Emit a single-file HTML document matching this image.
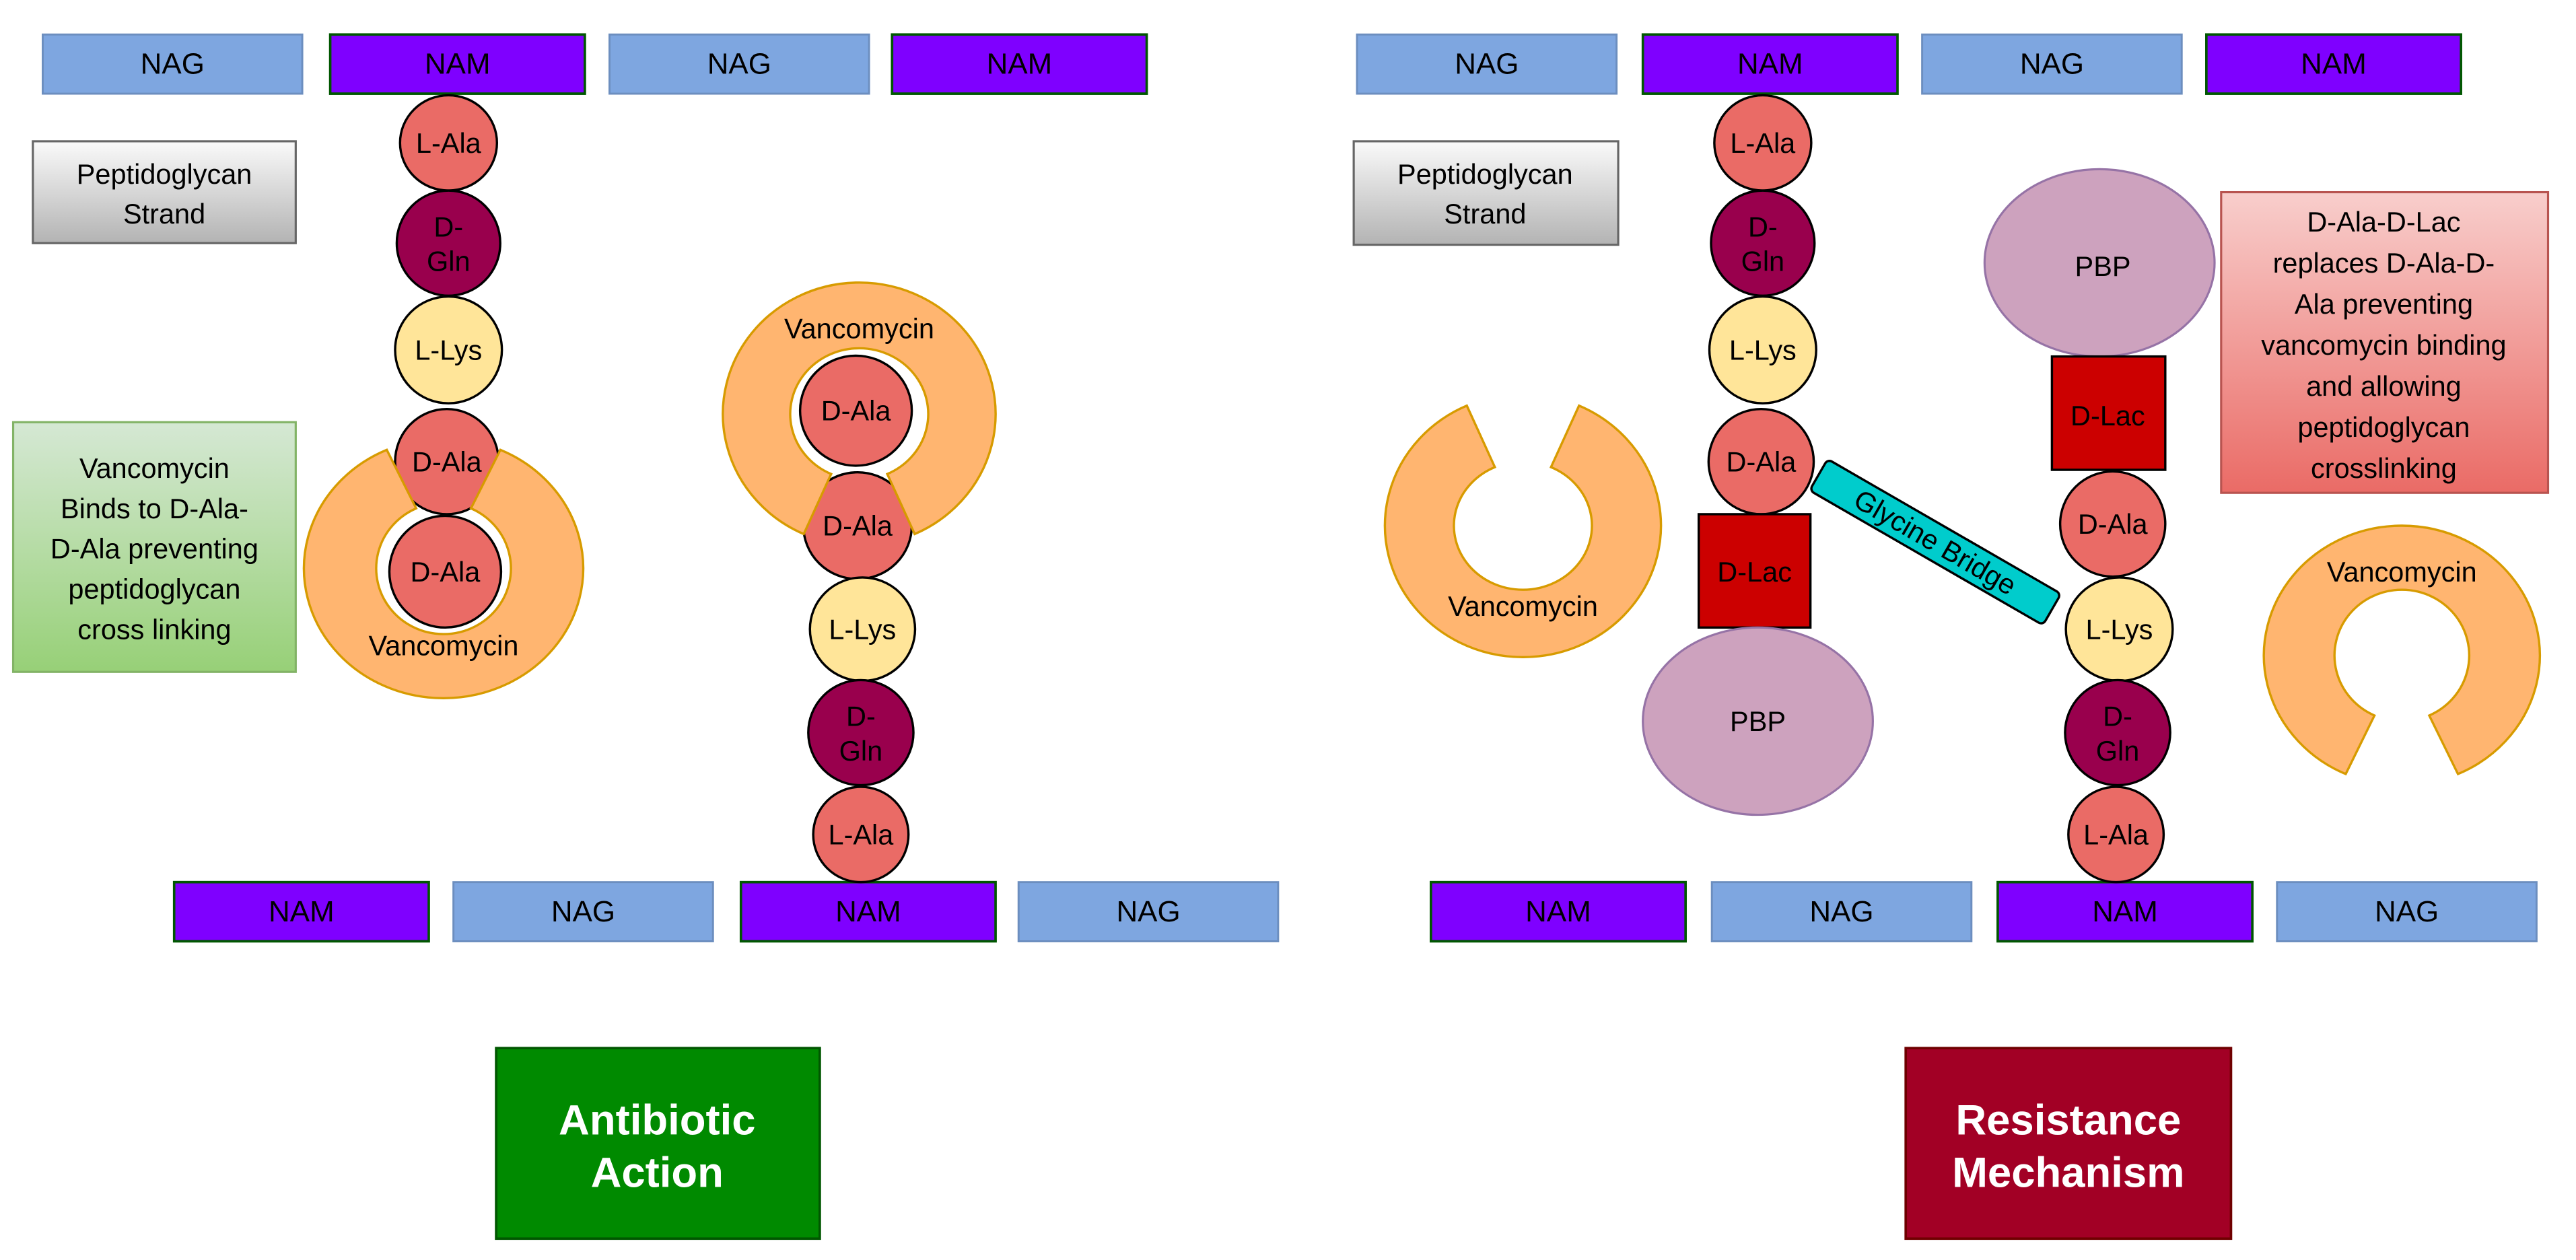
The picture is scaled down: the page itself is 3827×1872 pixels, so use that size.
<!DOCTYPE html>
<html><head><meta charset="utf-8"><style>
html,body{margin:0;padding:0;background:#fff;}
svg{display:block;}
text{font-family:"Liberation Sans",Arial,sans-serif;}
</style></head><body>
<svg id="s" width="3827" height="1872" viewBox="0 0 1568 767" xmlns="http://www.w3.org/2000/svg">
<defs>
<linearGradient id="gg" x1="0" y1="0" x2="0" y2="1"><stop offset="0" stop-color="#fafafa"/><stop offset="1" stop-color="#b3b3b3"/></linearGradient>
<linearGradient id="gn" x1="0" y1="0" x2="0" y2="1"><stop offset="0" stop-color="#d5e8d4"/><stop offset="1" stop-color="#97d077"/></linearGradient>
<linearGradient id="gr" x1="0" y1="0" x2="0" y2="1"><stop offset="0" stop-color="#f8cecc"/><stop offset="1" stop-color="#ea6b66"/></linearGradient>
</defs>
<rect width="1568" height="767" fill="#fff"/>
<g id="main"></g>
</svg>
<script>
const g=document.getElementById('main');let h='';
function rect(x,y,w,hh,fill,stroke,sw){h+=`<rect x="${x}" y="${y}" width="${w}" height="${hh}" fill="${fill}" stroke="${stroke}" stroke-width="${sw||1.2}"/>`;}
function txt(x,y,s,size,fill,extra){h+=`<text x="${x}" y="${y}" font-size="${size}" fill="${fill||'#000'}" text-anchor="middle" dominant-baseline="central" ${extra||''}>${s}</text>`;}
function nag(x,y){rect(x,y,158,36,'#7ea6e0','#6c8ebf',1.2);txt(x+79,y+18,'NAG',18);}
function nam(x,y){rect(x,y,155,36,'#7f00ff','#005700',1.5);txt(x+77.5,y+18,'NAM',18);}
const col={a:'#ea6b66',g:'#99004d',k:'#ffe599'};
function circ(cx,cy,w,hh,t,lab){h+=`<ellipse cx="${cx}" cy="${cy}" rx="${w/2}" ry="${hh/2}" fill="${col[t]}" stroke="#000" stroke-width="1.4"/>`;
 if(lab.indexOf('|')>=0){const p=lab.split('|');txt(cx,cy-10,p[0],17);txt(cx,cy+11,p[1],17);}else txt(cx,cy,lab,17);}
function ring(cx,cy,R,Ry,r,ry,gapC,half,label,ly){
 const d=Math.PI/180;const a1=(gapC+half)*d,a2=(gapC-half+360)*d;
 const o=a=>[cx+R*Math.cos(a),cy+Ry*Math.sin(a)],i=a=>[cx+r*Math.cos(a),cy+ry*Math.sin(a)];
 const p1=o(a1),p2=o(a2),p3=i(a2),p4=i(a1);
 h+=`<path d="M${p1} A${R} ${Ry} 0 1 1 ${p2} L${p3} A${r} ${ry} 0 1 0 ${p4} Z" fill="#ffb570" stroke="#d79b00" stroke-width="1.4"/>`;
 txt(cx,ly,'Vancomycin',17);}
// Left panel
nag(26,21);nam(201,21);nag(371,21);nam(543,21);
nam(106,537);nag(276,537);nam(451,537);nag(620,537);
rect(20,86,160,62,'url(#gg)','#666',1.3);txt(100,106,'Peptidoglycan',17);txt(100,130,'Strand',17);
rect(8,257,172,152,'url(#gn)','#82b366',1.3);
['Vancomycin','Binds to D-Ala-','D-Ala preventing','peptidoglycan','cross linking'].forEach((s,k)=>txt(94,285+k*24.5,s,17));
circ(273,87,59,58,'a','L-Ala');circ(273,148,63,64,'g','D-|Gln');circ(273,213,65,65,'k','L-Lys');circ(272,281,63,64,'a','D-Ala');
// ring left (gap top)
ring(270,346,85,79,41,40,-90,24,'Vancomycin',393);
circ(271,348,68,68,'a','D-Ala');
// ring col2
circ(522,320,66,65,'a','D-Ala');
ring(523,252,83,80,42,40,90,24,'Vancomycin',200);
circ(521,250,68,67,'a','D-Ala');
// redraw top of D-Ala2 area outside the ring is fine
circ(525,383,64,63,'k','L-Lys');circ(524,446,64,64,'g','D-|Gln');circ(524,508,58,58,'a','L-Ala');
rect(302,638,197,116,'#008a00','#005700',1.5);txt(400,682,'Antibiotic',26,'#fff','font-weight="bold"');txt(400,714,'Action',26,'#fff','font-weight="bold"');
// Right panel
nag(826,21);nam(1000,21);nag(1170,21);nam(1343,21);
nam(871,537);nag(1042,537);nam(1216,537);nag(1386,537);
rect(824,86,161,63,'url(#gg)','#666',1.3);txt(904,106,'Peptidoglycan',17);txt(904,130,'Strand',17);
circ(1073,87,59,58,'a','L-Ala');circ(1073,148,63,64,'g','D-|Gln');circ(1073,213,65,65,'k','L-Lys');circ(1072,281,64,64,'a','D-Ala');
rect(1034,313,68,69,'#cc0000','#000',1.4);txt(1068,348,'D-Lac',17);
h+=`<ellipse cx="1070" cy="439" rx="70" ry="57" fill="#cda2be" stroke="#9673a6" stroke-width="1.3"/>`;txt(1070,439,'PBP',17);
ring(927,320,84,80,42,39,-90,24,'Vancomycin',369);
h+=`<g transform="translate(1178,330) rotate(30)"><rect x="-82" y="-11" width="164" height="22" rx="3" fill="#00cccc" stroke="#000" stroke-width="1.4"/></g>`;
txt(1178,330,'Glycine Bridge',17,'#000','transform="rotate(30 1178 330)"');
h+=`<ellipse cx="1278" cy="160" rx="70" ry="57" fill="#cda2be" stroke="#9673a6" stroke-width="1.3"/>`;txt(1280,162,'PBP',17);
rect(1249,217,69,69,'#cc0000','#000',1.4);txt(1283,253,'D-Lac',17);
circ(1286,319,64,64,'a','D-Ala');circ(1290,383,65,63,'k','L-Lys');circ(1289,446,64,64,'g','D-|Gln');circ(1288,508,58,58,'a','L-Ala');
rect(1352,117,199,183,'url(#gr)','#b85450',1.3);
['D-Ala-D-Lac','replaces D-Ala-D-','Ala preventing','vancomycin binding','and allowing','peptidoglycan','crosslinking'].forEach((s,k)=>txt(1451,135+k*25,s,17));
ring(1462,399,84,79,41,40,90,24,'Vancomycin',348);
rect(1160,638,198,116,'#a20025','#6f0000',1.5);txt(1259,682,'Resistance',26,'#fff','font-weight="bold"');txt(1259,714,'Mechanism',26,'#fff','font-weight="bold"');
g.innerHTML=h;
</script>
</body></html>
